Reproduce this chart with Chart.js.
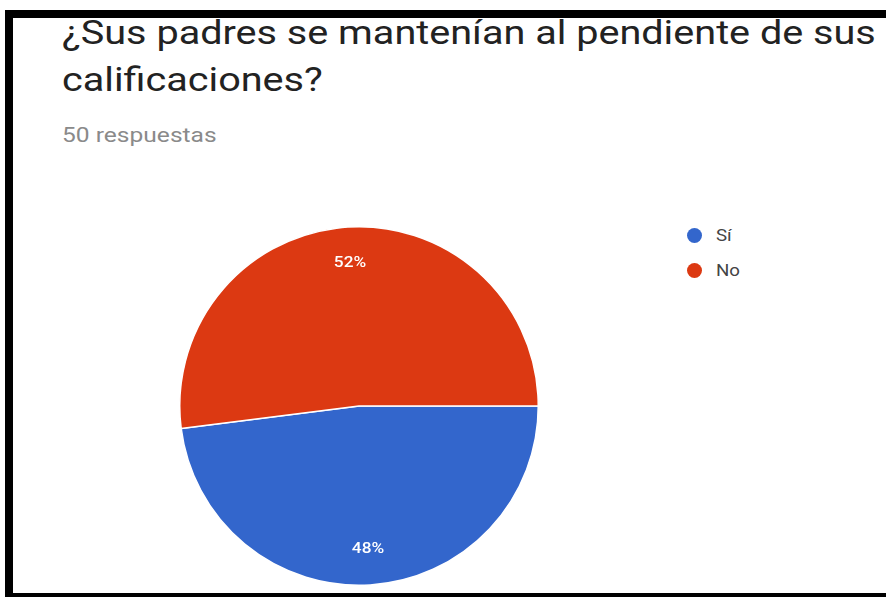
<!DOCTYPE html>
<html>
<head>
<meta charset="utf-8">
<script src="https://cdn.jsdelivr.net/npm/chart.js@4"></script>
<style>
    html, body { margin: 0; padding: 0; background: #fff; }
    body { width: 886px; height: 597px; position: relative; overflow: hidden; font-family: Roboto, Arial, sans-serif; }
    #frame { position: absolute; left: 5px; top: 10px; width: 900px; height: 600px; border-left: 8px solid #000; border-top: 8px solid #000; }
    #bottomBar { position: absolute; left: 5px; top: 593px; width: 900px; height: 10px; background: #000; }
    #title { position: absolute; left: 62px; top: 9px; font-size: 34px; line-height: 47px; color: #222; white-space: nowrap; transform: scaleX(1.165); transform-origin: left top; }
    #subtitle { position: absolute; left: 62px; top: 125px; font-size: 21px; line-height: 21px; color: #8a8a8a; transform: scaleX(1.17); transform-origin: left top; }
    #chartBox { position: absolute; left: 179px; top: 226px; width: 360px; height: 360px; }
    #legend { position: absolute; left: 687px; top: 228px; font-size: 17px; line-height: 17px; color: #444; }
    .item { height: 35px; position: relative; }
    .dot { position: absolute; left: 0; top: 0; width: 15px; height: 15px; border-radius: 50%; }
    .lbl { position: absolute; left: 29px; top: -1px; transform: scaleX(1.1); transform-origin: left top; }
</style>
</head>
<body>
<div id="frame"></div>
<div id="bottomBar"></div>
<div id="title">¿Sus padres se mantenían al pendiente de sus<br>calificaciones?</div>
<div id="subtitle">50 respuestas</div>
<div id="chartBox"><canvas id="pieChart"></canvas></div>
<div id="legend"></div>
<script>
const labels = ['Sí', 'No'];
const values = [48, 52];
const colors = ['#3366cc', '#dc3912'];

// white percentage labels inside the slices
const percentLabels = {
    id: 'percentLabels',
    afterDatasetsDraw: function(chart) {
        const ctx = chart.ctx;
        const meta = chart.getDatasetMeta(0);
        const total = values.reduce((a, b) => a + b, 0);
        ctx.save();
        ctx.fillStyle = '#fff';
        ctx.font = '500 15px Roboto';
        ctx.textAlign = 'center';
        ctx.textBaseline = 'middle';
        meta.data.forEach(function(arc, i) {
            const p = arc.getProps(['x', 'y', 'startAngle', 'endAngle', 'outerRadius'], true);
            const mid = (p.startAngle + p.endAngle) / 2;
            const r = p.outerRadius * 0.8;
            const tx = p.x + Math.cos(mid) * r;
            const ty = p.y + Math.sin(mid) * r;
            ctx.save();
            ctx.translate(tx, ty);
            ctx.scale(1.15, 1);
            ctx.fillText(Math.round(values[i] / total * 100) + '%', 0, 0);
            ctx.restore();
        });
        ctx.restore();
    }
};

new Chart(document.getElementById('pieChart').getContext('2d'), {
    type: 'pie',
    data: {
        labels: labels,
        datasets: [{
            data: values,
            backgroundColor: colors,
            borderColor: '#fff',
            borderWidth: 1.5
        }]
    },
    options: {
        responsive: true,
        maintainAspectRatio: false,
        animation: false,
        rotation: 90,
        layout: { padding: 0 },
        plugins: {
            legend: { display: false },
            tooltip: { enabled: false }
        }
    },
    plugins: [percentLabels]
});

// html legend
const legend = document.getElementById('legend');
labels.forEach(function(label, i) {
    const item = document.createElement('div');
    item.className = 'item';
    item.innerHTML = '<span class="dot" style="background:' + colors[i] + '"></span><span class="lbl">' + label + '</span>';
    legend.appendChild(item);
});
</script>
</body>
</html>
